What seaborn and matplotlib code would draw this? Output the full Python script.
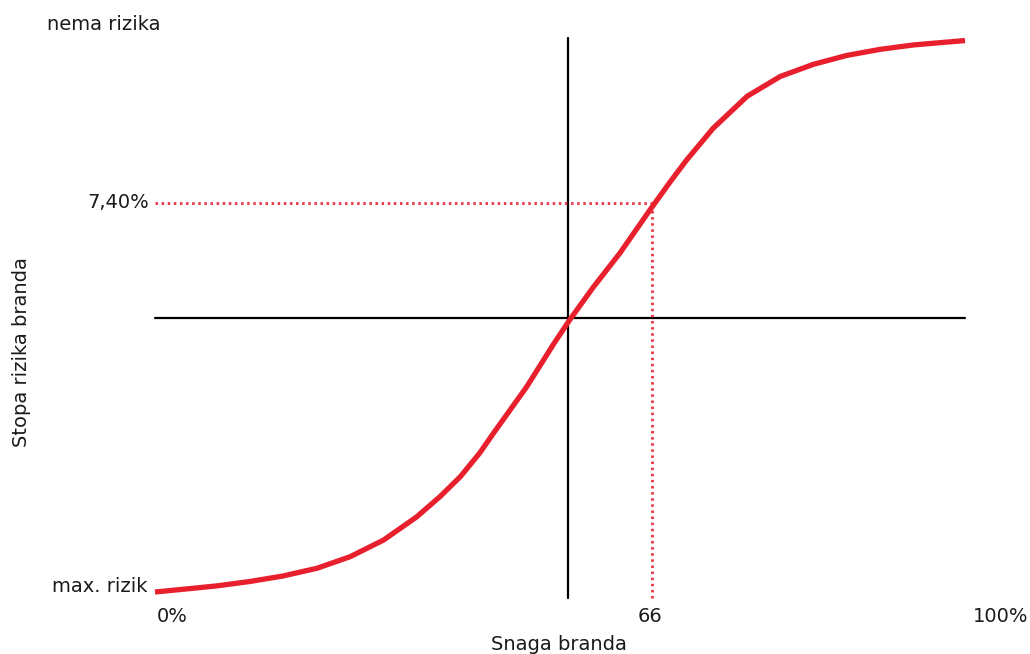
import matplotlib
matplotlib.use("Agg")
import matplotlib.pyplot as plt
import seaborn as sns
import pandas as pd

# Data (schematic S-curve, 0..100 scale on both axes)
strength = [0.0, 3.5, 7.6, 11.7, 15.8, 20.0, 24.1, 28.2, 32.3, 35.2, 37.7,
            40.1, 41.8, 45.9, 49.2, 51.2, 54.1, 57.4, 61.1, 63.6, 65.6,
            68.9, 73.1, 77.2, 81.3, 85.4, 89.5, 93.6, 100.0]
risk = [0.0, 0.5, 1.1, 1.9, 2.9, 4.3, 6.4, 9.4, 13.6, 17.3, 20.9,
        25.2, 28.8, 37.2, 44.9, 49.3, 55.2, 61.4, 69.2, 74.3, 78.2,
        84.0, 89.8, 93.4, 95.6, 97.2, 98.3, 99.1, 99.9]
center_x = 51.0
center_y = 49.6
marker_x = 61.4
marker_y = 70.5
x_labels = ["0%", "66", "100%"]
y_labels = ["nema rizika", "7,40%", "max. rizik"]
x_title = "Snaga branda"
y_title = "Stopa rizika branda"

sns.set_style("white")
plt.rcParams['font.family'] = ['DejaVu Sans']

W, H = 1030, 654
fig = plt.figure(figsize=(W / 100, H / 100), dpi=100)
ax = fig.add_axes([155 / W, (H - 592) / H, 810 / W, 552 / H])
ax.set_xlim(0, 100)
ax.set_ylim(0, 100)
ax.axis("off")

red = "#E8202E"
txt = "#1a1a1a"

# black axis cross
ax.plot([center_x, center_x], [-1.1, 100.4], color="black", lw=1.6, clip_on=False, zorder=2)
ax.plot([0, 100], [center_y, center_y], color="black", lw=1.6, clip_on=False, zorder=2)

# dotted guides
ax.plot([0, marker_x], [marker_y, marker_y], color=red, lw=2.0, ls=(0, (0.9, 1.3)),
        clip_on=False, zorder=3, alpha=0.9)
ax.plot([marker_x, marker_x], [-1.1, marker_y], color=red, lw=2.0, ls=(0, (0.9, 1.3)),
        clip_on=False, zorder=3, alpha=0.9)

df = pd.DataFrame({"x": strength, "y": risk})
sns.lineplot(data=df, x="x", y="y", ax=ax, color=red, lw=3.8, clip_on=False,
             zorder=4, sort=False)
ax.lines[-1].set_solid_capstyle("butt")
ax.lines[-1].set_solid_joinstyle("round")

fs = 14
# y texts
fig.text(47 / W, 1 - 24 / H, y_labels[0], ha="left", va="center", fontsize=fs, color=txt)
fig.text(149 / W, 1 - 202 / H, y_labels[1], ha="right", va="center", fontsize=fs, color=txt)
fig.text(148 / W, 1 - 586 / H, y_labels[2], ha="right", va="center", fontsize=fs, color=txt)
# x texts
fig.text(157 / W, 1 - 616 / H, x_labels[0], ha="left", va="center", fontsize=fs, color=txt)
fig.text(650 / W, 1 - 616 / H, x_labels[1], ha="center", va="center", fontsize=fs, color=txt)
fig.text(1028 / W, 1 - 616 / H, x_labels[2], ha="right", va="center", fontsize=fs, color=txt)
# titles
fig.text(559 / W, 1 - 644 / H, x_title, ha="center", va="center", fontsize=fs, color=txt)
fig.text(22 / W, 1 - 352 / H, y_title, ha="center", va="center", rotation=90,
         fontsize=fs, color=txt)

fig.savefig("out.png", dpi=100, facecolor="white")
